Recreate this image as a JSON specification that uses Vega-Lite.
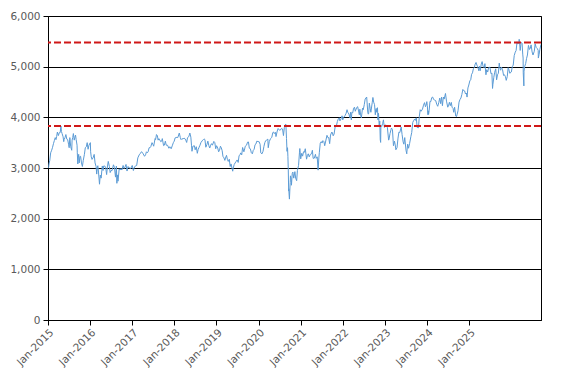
{
  "$schema": "https://vega.github.io/schema/vega-lite/v6.json",
  "width": 493,
  "height": 304,
  "autosize": "none",
  "padding": {"left": 48, "top": 16, "right": 28, "bottom": 64},
  "background": "white",
  "config": {
    "view": {"stroke": "black", "strokeWidth": 1},
    "font": "DejaVu Sans",
    "axis": {"labelFont": "DejaVu Sans", "labelFontSize": 10.5, "labelColor": "#595959", "domainColor": "black", "tickColor": "black", "tickSize": 5, "title": null}
  },
  "datasets": {
    "index": [
      {"d":"2015-01-01","v":3000},{"d":"2015-01-06","v":3022},{"d":"2015-01-09","v":3080},{"d":"2015-01-15","v":3150},{"d":"2015-01-22","v":3300},{"d":"2015-01-30","v":3351},
      {"d":"2015-02-05","v":3400},{"d":"2015-02-13","v":3480},{"d":"2015-02-20","v":3540},{"d":"2015-02-27","v":3599},{"d":"2015-03-05","v":3560},{"d":"2015-03-10","v":3620},{"d":"2015-03-16","v":3710},{"d":"2015-03-24","v":3640},{"d":"2015-03-31","v":3697},
      {"d":"2015-04-07","v":3700},{"d":"2015-04-13","v":3828},{"d":"2015-04-17","v":3720},{"d":"2015-04-22","v":3680},{"d":"2015-04-30","v":3615},{"d":"2015-05-05","v":3520},{"d":"2015-05-08","v":3560},{"d":"2015-05-15","v":3600},{"d":"2015-05-22","v":3660},{"d":"2015-05-29","v":3570},
      {"d":"2015-06-05","v":3560},{"d":"2015-06-12","v":3470},{"d":"2015-06-17","v":3400},{"d":"2015-06-22","v":3600},{"d":"2015-06-29","v":3420},{"d":"2015-07-07","v":3350},{"d":"2015-07-10","v":3550},{"d":"2015-07-15","v":3600},{"d":"2015-07-20","v":3680},{"d":"2015-07-27","v":3550},{"d":"2015-07-31","v":3600},
      {"d":"2015-08-06","v":3650},{"d":"2015-08-11","v":3560},{"d":"2015-08-18","v":3450},{"d":"2015-08-20","v":3300},{"d":"2015-08-24","v":3080},{"d":"2015-08-27","v":3200},{"d":"2015-08-31","v":3270},
      {"d":"2015-09-04","v":3100},{"d":"2015-09-10","v":3230},{"d":"2015-09-15","v":3230},{"d":"2015-09-22","v":3100},{"d":"2015-09-29","v":3030},{"d":"2015-10-06","v":3150},{"d":"2015-10-15","v":3270},{"d":"2015-10-22","v":3400},{"d":"2015-10-30","v":3420},
      {"d":"2015-11-06","v":3500},{"d":"2015-11-13","v":3370},{"d":"2015-11-20","v":3450},{"d":"2015-12-01","v":3500},{"d":"2015-12-03","v":3320},{"d":"2015-12-08","v":3220},{"d":"2015-12-14","v":3170},{"d":"2015-12-22","v":3200},{"d":"2015-12-31","v":3268},
      {"d":"2016-01-07","v":3100},{"d":"2016-01-15","v":3030},{"d":"2016-01-20","v":2880},{"d":"2016-01-25","v":3020},{"d":"2016-01-29","v":3045},{"d":"2016-02-03","v":2920},{"d":"2016-02-11","v":2680},{"d":"2016-02-17","v":2860},{"d":"2016-02-24","v":2800},{"d":"2016-02-29","v":2945},
      {"d":"2016-03-04","v":3040},{"d":"2016-03-10","v":2950},{"d":"2016-03-15","v":3040},{"d":"2016-03-23","v":3040},{"d":"2016-03-31","v":3004},{"d":"2016-04-07","v":2870},{"d":"2016-04-14","v":3040},{"d":"2016-04-20","v":3130},{"d":"2016-04-29","v":3030},
      {"d":"2016-05-05","v":2910},{"d":"2016-05-12","v":2950},{"d":"2016-05-20","v":2950},{"d":"2016-05-31","v":3063},{"d":"2016-06-08","v":3010},{"d":"2016-06-16","v":2820},{"d":"2016-06-23","v":3037},{"d":"2016-06-27","v":2698},{"d":"2016-06-30","v":2864},
      {"d":"2016-07-06","v":2740},{"d":"2016-07-15","v":2985},{"d":"2016-07-22","v":2960},{"d":"2016-07-29","v":2990},{"d":"2016-08-05","v":2960},{"d":"2016-08-15","v":3050},{"d":"2016-08-23","v":2990},{"d":"2016-08-31","v":3023},
      {"d":"2016-09-07","v":3070},{"d":"2016-09-15","v":2940},{"d":"2016-09-23","v":3030},{"d":"2016-09-30","v":3002},{"d":"2016-10-07","v":3000},{"d":"2016-10-14","v":2990},{"d":"2016-10-26","v":3050},
      {"d":"2016-11-04","v":2950},{"d":"2016-11-09","v":2990},{"d":"2016-11-15","v":3030},{"d":"2016-11-22","v":3040},{"d":"2016-11-30","v":3050},{"d":"2016-12-09","v":3200},{"d":"2016-12-20","v":3260},{"d":"2016-12-30","v":3291},
      {"d":"2017-01-06","v":3320},{"d":"2017-01-13","v":3310},{"d":"2017-01-20","v":3280},{"d":"2017-01-31","v":3231},{"d":"2017-02-08","v":3260},{"d":"2017-02-15","v":3320},{"d":"2017-02-22","v":3300},{"d":"2017-02-28","v":3320},
      {"d":"2017-03-08","v":3400},{"d":"2017-03-15","v":3400},{"d":"2017-03-21","v":3420},{"d":"2017-03-31","v":3500},{"d":"2017-04-06","v":3470},{"d":"2017-04-13","v":3430},{"d":"2017-04-24","v":3580},{"d":"2017-04-28","v":3560},
      {"d":"2017-05-05","v":3660},{"d":"2017-05-12","v":3640},{"d":"2017-05-18","v":3550},{"d":"2017-05-24","v":3580},{"d":"2017-05-31","v":3555},{"d":"2017-06-07","v":3520},{"d":"2017-06-15","v":3530},{"d":"2017-06-20","v":3580},{"d":"2017-06-30","v":3442},
      {"d":"2017-07-06","v":3450},{"d":"2017-07-14","v":3530},{"d":"2017-07-21","v":3450},{"d":"2017-07-31","v":3450},{"d":"2017-08-11","v":3390},{"d":"2017-08-18","v":3420},{"d":"2017-08-29","v":3380},
      {"d":"2017-09-08","v":3450},{"d":"2017-09-15","v":3500},{"d":"2017-09-22","v":3530},{"d":"2017-09-29","v":3595},{"d":"2017-10-13","v":3605},{"d":"2017-10-20","v":3600},{"d":"2017-11-01","v":3690},{"d":"2017-11-09","v":3600},{"d":"2017-11-15","v":3560},{"d":"2017-11-23","v":3580},{"d":"2017-11-30","v":3570},
      {"d":"2017-12-08","v":3590},{"d":"2017-12-15","v":3580},{"d":"2017-12-22","v":3550},{"d":"2017-12-29","v":3504},
      {"d":"2018-01-05","v":3600},{"d":"2018-01-15","v":3620},{"d":"2018-01-23","v":3690},{"d":"2018-01-31","v":3609},{"d":"2018-02-05","v":3450},{"d":"2018-02-09","v":3330},{"d":"2018-02-16","v":3430},{"d":"2018-02-28","v":3439},
      {"d":"2018-03-06","v":3360},{"d":"2018-03-15","v":3420},{"d":"2018-03-23","v":3290},{"d":"2018-03-29","v":3362},{"d":"2018-04-06","v":3410},{"d":"2018-04-13","v":3450},{"d":"2018-04-20","v":3500},{"d":"2018-04-30","v":3536},
      {"d":"2018-05-09","v":3560},{"d":"2018-05-15","v":3575},{"d":"2018-05-22","v":3560},{"d":"2018-05-29","v":3410},{"d":"2018-06-06","v":3460},{"d":"2018-06-14","v":3530},{"d":"2018-06-22","v":3440},{"d":"2018-06-29","v":3395},
      {"d":"2018-07-06","v":3450},{"d":"2018-07-13","v":3480},{"d":"2018-07-20","v":3450},{"d":"2018-07-31","v":3525},{"d":"2018-08-08","v":3500},{"d":"2018-08-15","v":3380},{"d":"2018-08-22","v":3440},{"d":"2018-08-31","v":3393},
      {"d":"2018-09-07","v":3320},{"d":"2018-09-14","v":3350},{"d":"2018-09-21","v":3430},{"d":"2018-09-28","v":3399},{"d":"2018-10-05","v":3340},{"d":"2018-10-11","v":3230},{"d":"2018-10-19","v":3200},{"d":"2018-10-26","v":3150},{"d":"2018-10-31","v":3197},
      {"d":"2018-11-08","v":3250},{"d":"2018-11-15","v":3170},{"d":"2018-11-22","v":3130},{"d":"2018-11-30","v":3173},{"d":"2018-12-07","v":3030},{"d":"2018-12-14","v":3080},{"d":"2018-12-21","v":3000},{"d":"2018-12-27","v":2937},{"d":"2018-12-31","v":3001},
      {"d":"2019-01-08","v":3070},{"d":"2019-01-15","v":3100},{"d":"2019-01-23","v":3130},{"d":"2019-01-31","v":3159},{"d":"2019-02-08","v":3110},{"d":"2019-02-15","v":3240},{"d":"2019-02-22","v":3260},{"d":"2019-02-28","v":3298},
      {"d":"2019-03-08","v":3260},{"d":"2019-03-15","v":3405},{"d":"2019-03-25","v":3320},{"d":"2019-03-29","v":3352},{"d":"2019-04-05","v":3430},{"d":"2019-04-15","v":3450},{"d":"2019-04-23","v":3510},{"d":"2019-04-30","v":3514},
      {"d":"2019-05-07","v":3390},{"d":"2019-05-15","v":3380},{"d":"2019-05-23","v":3300},{"d":"2019-05-31","v":3280},{"d":"2019-06-07","v":3350},{"d":"2019-06-14","v":3370},{"d":"2019-06-21","v":3460},{"d":"2019-06-28","v":3474},
      {"d":"2019-07-05","v":3530},{"d":"2019-07-15","v":3520},{"d":"2019-07-23","v":3520},{"d":"2019-07-31","v":3467},{"d":"2019-08-05","v":3300},{"d":"2019-08-15","v":3280},{"d":"2019-08-23","v":3330},{"d":"2019-08-30","v":3427},
      {"d":"2019-09-06","v":3500},{"d":"2019-09-13","v":3540},{"d":"2019-09-20","v":3550},{"d":"2019-09-30","v":3570},{"d":"2019-10-03","v":3400},{"d":"2019-10-11","v":3520},{"d":"2019-10-21","v":3580},{"d":"2019-10-31","v":3604},
      {"d":"2019-11-08","v":3700},{"d":"2019-11-15","v":3710},{"d":"2019-11-20","v":3680},{"d":"2019-11-29","v":3703},{"d":"2019-12-03","v":3620},{"d":"2019-12-13","v":3730},{"d":"2019-12-20","v":3780},{"d":"2019-12-31","v":3745},
      {"d":"2020-01-07","v":3750},{"d":"2020-01-15","v":3780},{"d":"2020-01-24","v":3770},{"d":"2020-01-31","v":3640},{"d":"2020-02-07","v":3800},{"d":"2020-02-12","v":3850},{"d":"2020-02-19","v":3865},{"d":"2020-02-24","v":3580},{"d":"2020-02-28","v":3329},
      {"d":"2020-03-03","v":3400},{"d":"2020-03-06","v":3232},{"d":"2020-03-09","v":2960},{"d":"2020-03-12","v":2545},{"d":"2020-03-13","v":2590},{"d":"2020-03-16","v":2450},{"d":"2020-03-18","v":2386},{"d":"2020-03-24","v":2715},{"d":"2020-03-26","v":2845},{"d":"2020-03-31","v":2787},
      {"d":"2020-04-03","v":2660},{"d":"2020-04-09","v":2890},{"d":"2020-04-14","v":2920},{"d":"2020-04-21","v":2800},{"d":"2020-04-30","v":2928},{"d":"2020-05-06","v":2800},{"d":"2020-05-14","v":2750},{"d":"2020-05-20","v":2950},{"d":"2020-05-29","v":3050},
      {"d":"2020-06-05","v":3300},{"d":"2020-06-08","v":3384},{"d":"2020-06-15","v":3180},{"d":"2020-06-23","v":3290},{"d":"2020-06-30","v":3234},{"d":"2020-07-07","v":3320},{"d":"2020-07-14","v":3310},{"d":"2020-07-21","v":3380},{"d":"2020-07-31","v":3174},
      {"d":"2020-08-07","v":3250},{"d":"2020-08-14","v":3280},{"d":"2020-08-21","v":3220},{"d":"2020-08-31","v":3272},{"d":"2020-09-08","v":3280},{"d":"2020-09-15","v":3350},{"d":"2020-09-21","v":3190},{"d":"2020-09-30","v":3194},
      {"d":"2020-10-09","v":3270},{"d":"2020-10-15","v":3190},{"d":"2020-10-23","v":3220},{"d":"2020-10-30","v":2958},{"d":"2020-11-05","v":3200},{"d":"2020-11-09","v":3310},{"d":"2020-11-16","v":3490},{"d":"2020-11-24","v":3520},{"d":"2020-11-30","v":3492},
      {"d":"2020-12-07","v":3540},{"d":"2020-12-15","v":3520},{"d":"2020-12-21","v":3440},{"d":"2020-12-31","v":3553},
      {"d":"2021-01-08","v":3645},{"d":"2021-01-15","v":3600},{"d":"2021-01-22","v":3600},{"d":"2021-01-29","v":3481},{"d":"2021-02-05","v":3650},{"d":"2021-02-15","v":3710},{"d":"2021-02-19","v":3700},{"d":"2021-02-26","v":3636},
      {"d":"2021-03-05","v":3670},{"d":"2021-03-15","v":3840},{"d":"2021-03-23","v":3830},{"d":"2021-03-31","v":3919},{"d":"2021-04-09","v":3980},{"d":"2021-04-15","v":3990},{"d":"2021-04-20","v":3930},{"d":"2021-04-30","v":3975},
      {"d":"2021-05-07","v":4030},{"d":"2021-05-12","v":3950},{"d":"2021-05-20","v":4000},{"d":"2021-05-31","v":4039},{"d":"2021-06-08","v":4080},{"d":"2021-06-15","v":4150},{"d":"2021-06-21","v":4100},{"d":"2021-06-30","v":4064},
      {"d":"2021-07-08","v":3990},{"d":"2021-07-13","v":4100},{"d":"2021-07-19","v":3950},{"d":"2021-07-23","v":4100},{"d":"2021-07-30","v":4089},{"d":"2021-08-06","v":4180},{"d":"2021-08-13","v":4200},{"d":"2021-08-19","v":4120},{"d":"2021-08-31","v":4196},
      {"d":"2021-09-07","v":4210},{"d":"2021-09-20","v":4050},{"d":"2021-09-24","v":4160},{"d":"2021-09-30","v":4048},{"d":"2021-10-06","v":3990},{"d":"2021-10-15","v":4180},{"d":"2021-10-21","v":4150},{"d":"2021-10-29","v":4250},
      {"d":"2021-11-05","v":4360},{"d":"2021-11-17","v":4401},{"d":"2021-11-26","v":4090},{"d":"2021-11-30","v":4063},{"d":"2021-12-03","v":4080},{"d":"2021-12-08","v":4280},{"d":"2021-12-15","v":4170},{"d":"2021-12-20","v":4100},{"d":"2021-12-31","v":4298},
      {"d":"2022-01-05","v":4392},{"d":"2022-01-11","v":4300},{"d":"2022-01-18","v":4250},{"d":"2022-01-24","v":4050},{"d":"2022-01-27","v":4150},{"d":"2022-01-31","v":4175},{"d":"2022-02-04","v":4100},{"d":"2022-02-10","v":4190},{"d":"2022-02-14","v":3950},{"d":"2022-02-18","v":4080},{"d":"2022-02-24","v":3830},{"d":"2022-02-28","v":3924},
      {"d":"2022-03-04","v":3560},{"d":"2022-03-07","v":3505},{"d":"2022-03-09","v":3840},{"d":"2022-03-15","v":3820},{"d":"2022-03-23","v":3880},{"d":"2022-03-29","v":3950},{"d":"2022-03-31","v":3903},
      {"d":"2022-04-06","v":3800},{"d":"2022-04-14","v":3850},{"d":"2022-04-22","v":3840},{"d":"2022-04-29","v":3803},{"d":"2022-05-09","v":3550},{"d":"2022-05-12","v":3570},{"d":"2022-05-20","v":3680},{"d":"2022-05-31","v":3789},
      {"d":"2022-06-08","v":3760},{"d":"2022-06-16","v":3440},{"d":"2022-06-24","v":3530},{"d":"2022-06-30","v":3455},{"d":"2022-07-05","v":3360},{"d":"2022-07-14","v":3400},{"d":"2022-07-22","v":3590},{"d":"2022-07-29","v":3708},
      {"d":"2022-08-05","v":3700},{"d":"2022-08-16","v":3810},{"d":"2022-08-23","v":3660},{"d":"2022-08-31","v":3517},{"d":"2022-09-06","v":3470},{"d":"2022-09-13","v":3600},{"d":"2022-09-23","v":3350},{"d":"2022-09-29","v":3280},{"d":"2022-09-30","v":3318},
      {"d":"2022-10-06","v":3470},{"d":"2022-10-13","v":3390},{"d":"2022-10-21","v":3480},{"d":"2022-10-31","v":3618},{"d":"2022-11-07","v":3700},{"d":"2022-11-15","v":3900},{"d":"2022-11-23","v":3940},{"d":"2022-11-30","v":3965},
      {"d":"2022-12-06","v":3940},{"d":"2022-12-13","v":3990},{"d":"2022-12-20","v":3800},{"d":"2022-12-30","v":3794},
      {"d":"2023-01-06","v":4020},{"d":"2023-01-13","v":4150},{"d":"2023-01-20","v":4120},{"d":"2023-01-31","v":4163},{"d":"2023-02-08","v":4240},{"d":"2023-02-16","v":4290},{"d":"2023-02-23","v":4210},{"d":"2023-02-28","v":4238},
      {"d":"2023-03-06","v":4310},{"d":"2023-03-10","v":4230},{"d":"2023-03-15","v":4050},{"d":"2023-03-17","v":4130},{"d":"2023-03-20","v":4060},{"d":"2023-03-24","v":4130},{"d":"2023-03-31","v":4315},
      {"d":"2023-04-06","v":4310},{"d":"2023-04-14","v":4390},{"d":"2023-04-21","v":4400},{"d":"2023-04-28","v":4359},{"d":"2023-05-05","v":4340},{"d":"2023-05-15","v":4330},{"d":"2023-05-24","v":4250},{"d":"2023-05-31","v":4218},
      {"d":"2023-06-08","v":4290},{"d":"2023-06-16","v":4380},{"d":"2023-06-23","v":4270},{"d":"2023-06-30","v":4399},{"d":"2023-07-07","v":4230},{"d":"2023-07-14","v":4400},{"d":"2023-07-21","v":4360},{"d":"2023-07-31","v":4471},
      {"d":"2023-08-08","v":4320},{"d":"2023-08-18","v":4200},{"d":"2023-08-25","v":4240},{"d":"2023-08-31","v":4297},{"d":"2023-09-07","v":4230},{"d":"2023-09-15","v":4295},{"d":"2023-09-21","v":4200},{"d":"2023-09-29","v":4175},
      {"d":"2023-10-04","v":4100},{"d":"2023-10-11","v":4200},{"d":"2023-10-20","v":4025},{"d":"2023-10-26","v":4015},{"d":"2023-10-31","v":4061},{"d":"2023-11-07","v":4130},{"d":"2023-11-15","v":4300},{"d":"2023-11-22","v":4350},{"d":"2023-11-30","v":4382},
      {"d":"2023-12-07","v":4450},{"d":"2023-12-15","v":4550},{"d":"2023-12-20","v":4530},{"d":"2023-12-29","v":4521},
      {"d":"2024-01-05","v":4460},{"d":"2024-01-12","v":4480},{"d":"2024-01-17","v":4400},{"d":"2024-01-24","v":4580},{"d":"2024-01-31","v":4638},{"d":"2024-02-08","v":4720},{"d":"2024-02-15","v":4740},{"d":"2024-02-22","v":4850},{"d":"2024-02-29","v":4878},
      {"d":"2024-03-07","v":4960},{"d":"2024-03-15","v":4990},{"d":"2024-03-21","v":5050},{"d":"2024-03-28","v":5083},{"d":"2024-04-04","v":5030},{"d":"2024-04-10","v":5000},{"d":"2024-04-19","v":4920},{"d":"2024-04-24","v":5010},{"d":"2024-04-30","v":4921},
      {"d":"2024-05-08","v":5050},{"d":"2024-05-15","v":5100},{"d":"2024-05-23","v":5000},{"d":"2024-05-31","v":4983},{"d":"2024-06-06","v":5060},{"d":"2024-06-14","v":4840},{"d":"2024-06-20","v":4940},{"d":"2024-06-28","v":4894},
      {"d":"2024-07-05","v":4980},{"d":"2024-07-15","v":4990},{"d":"2024-07-24","v":4860},{"d":"2024-07-31","v":4873},{"d":"2024-08-05","v":4570},{"d":"2024-08-08","v":4650},{"d":"2024-08-15","v":4790},{"d":"2024-08-22","v":4890},{"d":"2024-08-30","v":4958},
      {"d":"2024-09-06","v":4740},{"d":"2024-09-13","v":4840},{"d":"2024-09-20","v":4870},{"d":"2024-09-27","v":5070},{"d":"2024-09-30","v":5000},{"d":"2024-10-08","v":4930},{"d":"2024-10-15","v":4990},{"d":"2024-10-23","v":4940},{"d":"2024-10-31","v":4827},
      {"d":"2024-11-07","v":4840},{"d":"2024-11-15","v":4800},{"d":"2024-11-21","v":4730},{"d":"2024-11-29","v":4804},{"d":"2024-12-06","v":4980},{"d":"2024-12-10","v":4960},{"d":"2024-12-19","v":4870},{"d":"2024-12-31","v":4895},
      {"d":"2025-01-08","v":5000},{"d":"2025-01-15","v":5030},{"d":"2025-01-23","v":5220},{"d":"2025-01-31","v":5286},{"d":"2025-02-07","v":5320},{"d":"2025-02-14","v":5490},{"d":"2025-02-20","v":5450},{"d":"2025-02-28","v":5464},
      {"d":"2025-03-03","v":5540},{"d":"2025-03-06","v":5490},{"d":"2025-03-11","v":5320},{"d":"2025-03-18","v":5480},{"d":"2025-03-26","v":5460},{"d":"2025-03-31","v":5248},
      {"d":"2025-04-03","v":5170},{"d":"2025-04-04","v":4880},{"d":"2025-04-09","v":4620},{"d":"2025-04-10","v":4910},{"d":"2025-04-15","v":5000},{"d":"2025-04-23","v":5060},{"d":"2025-04-30","v":5160},
      {"d":"2025-05-07","v":5230},{"d":"2025-05-15","v":5420},{"d":"2025-05-23","v":5340},{"d":"2025-05-30","v":5366},{"d":"2025-06-05","v":5430},{"d":"2025-06-13","v":5290},{"d":"2025-06-20","v":5230},{"d":"2025-06-30","v":5303},
      {"d":"2025-07-07","v":5450},{"d":"2025-07-15","v":5380},{"d":"2025-07-23","v":5360},{"d":"2025-07-31","v":5320},{"d":"2025-08-01","v":5170},{"d":"2025-08-07","v":5240},{"d":"2025-08-13","v":5340},{"d":"2025-08-22","v":5440}
    ],
    "levels": [{"level": 5475}, {"level": 3830}]
  },
  "layer": [
    {
      "data": {"name": "index"},
      "mark": {"type": "line", "color": "#5B9BD5", "strokeWidth": 1, "clip": true},
      "encoding": {
        "x": {
          "field": "d", "type": "temporal",
          "scale": {"domain": [{"year": 2015, "month": 1, "date": 1, "utc": true}, {"year": 2025, "month": 8, "date": 22, "utc": true}]},
          "axis": {
            "grid": false,
            "labelAngle": -45,
            "values": [
              {"year": 2015, "month": 1, "date": 1, "utc": true},
              {"year": 2015, "month": 11, "date": 29, "utc": true},
              {"year": 2016, "month": 10, "date": 26, "utc": true},
              {"year": 2017, "month": 9, "date": 23, "utc": true},
              {"year": 2018, "month": 8, "date": 21, "utc": true},
              {"year": 2019, "month": 7, "date": 20, "utc": true},
              {"year": 2020, "month": 6, "date": 16, "utc": true},
              {"year": 2021, "month": 5, "date": 14, "utc": true},
              {"year": 2022, "month": 4, "date": 11, "utc": true},
              {"year": 2023, "month": 3, "date": 9, "utc": true},
              {"year": 2024, "month": 2, "date": 5, "utc": true}
            ],
            "labelExpr": "'Jan-' + (utcyear(datum.value) + ((utcmonth(datum.value) == 0 && utcdate(datum.value) == 1) ? 0 : 1))"
          }
        },
        "y": {
          "field": "v", "type": "quantitative",
          "scale": {"domain": [0, 6000], "nice": false},
          "axis": {"values": [0, 1000, 2000, 3000, 4000, 5000, 6000], "format": ",.0f", "grid": true, "gridColor": "black", "gridWidth": 1, "gridOpacity": 1, "labelPadding": 3}
        }
      }
    },
    {
      "data": {"name": "levels"},
      "mark": {"type": "rule", "color": "#D01818", "strokeWidth": 2, "strokeDash": [7, 3]},
      "encoding": {
        "y": {"field": "level", "type": "quantitative"}
      }
    }
  ]
}
